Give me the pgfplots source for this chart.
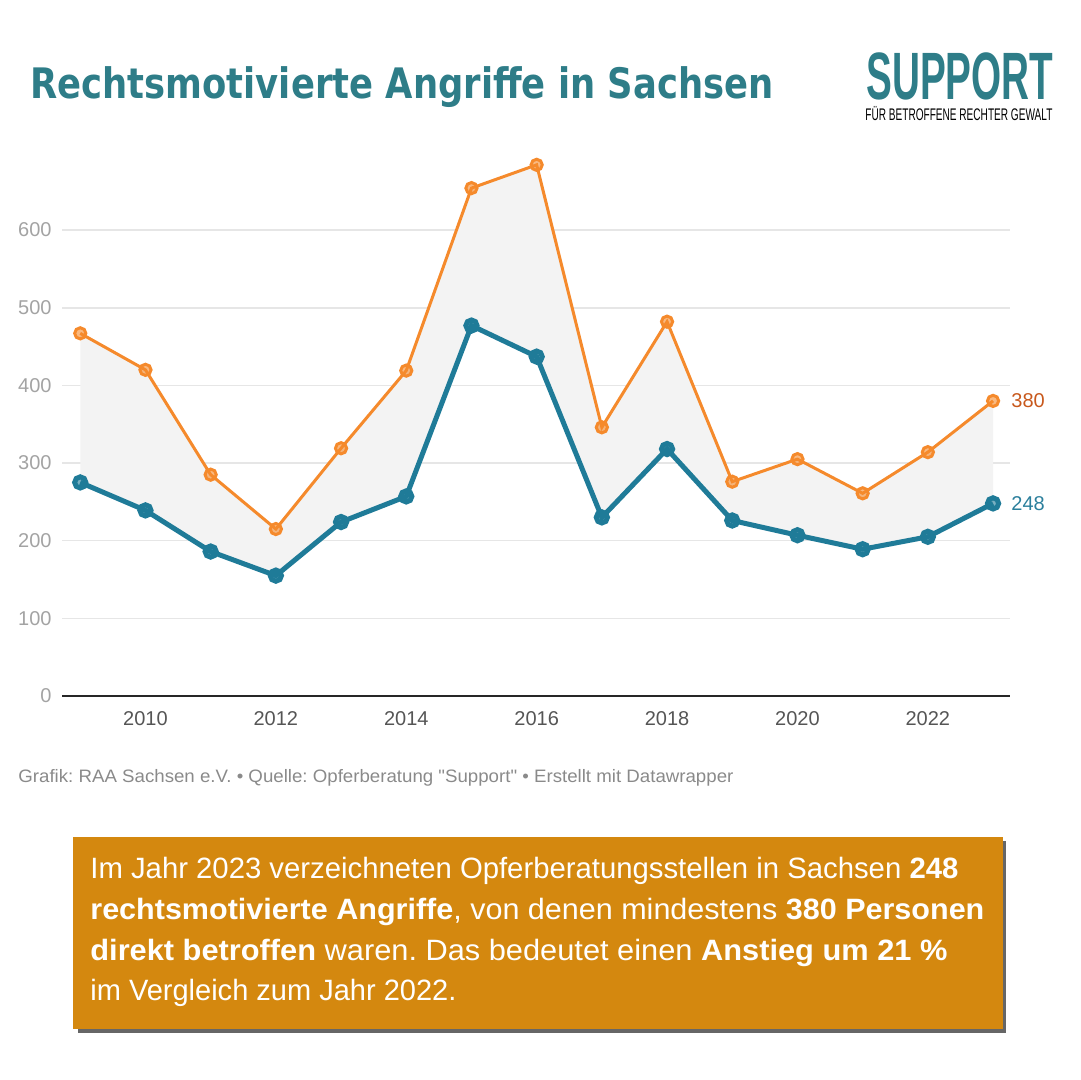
\documentclass[border=0pt]{standalone}
\usepackage{pgfplots}
\pgfplotsset{compat=1.18}
\usepackage{pgfplotstable}
\usepgfplotslibrary{fillbetween}
\usepackage{graphicx}
\usepackage{fontspec}
\setmainfont{Liberation Sans}
\newfontfamily\titlefont{DejaVu Sans}
\newfontfamily\srcfont[Ligatures=TeXOff]{Liberation Sans}
\frenchspacing

\definecolor{orangeC}{HTML}{F58A2C}
\definecolor{blueC}{HTML}{1F7B98}
\definecolor{titleC}{HTML}{2E7D88}
\definecolor{boxC}{HTML}{D4880F}
\definecolor{shadowC}{HTML}{666666}
\definecolor{srcC}{HTML}{8A8A8A}
\definecolor{ytickC}{HTML}{A3A3A3}
\definecolor{xtickC}{HTML}{555555}
\definecolor{gridC}{HTML}{E6E6E6}
\definecolor{fillC}{HTML}{F3F3F3}
\definecolor{lab380}{HTML}{C8581C}
\definecolor{lab248}{HTML}{2B7F9C}

\pgfplotstableread{
year orange blue
2009 467 275
2010 420 239
2011 285 186
2012 215 155
2013 319 224
2014 419 257
2015 654 477
2016 684 437
2017 346 230
2018 482 318
2019 276 226
2020 305 207
2021 261 189
2022 314 205
2023 380 248
}\datatable

\begin{document}
\begin{tikzpicture}
\path (0,0) rectangle (540pt,540pt);

% title
\node[anchor=base west, inner sep=0, text=titleC] at (15pt,490.5pt)
  {\resizebox{371.5pt}{\height}{\titlefont\bfseries\fontsize{21}{21}\selectfont Rechtsmotivierte Angriffe in Sachsen}};

% logo
\node[anchor=base west, inner sep=0, text=titleC] at (433pt,490pt)
  {\resizebox{93.5pt}{\height}{\fontsize{33.5}{33.5}\selectfont\bfseries SUPPORT}};
\node[anchor=base west, inner sep=0, text=black] at (432.5pt,479.5pt)
  {\resizebox{93.5pt}{\height}{\fontsize{8.4}{8.4}\selectfont FÜR BETROFFENE RECHTER GEWALT}};

% source
\node[anchor=base west, inner sep=0, text=srcC] at (9pt,148.5pt)
  {\resizebox{357.5pt}{\height}{\srcfont\fontsize{9}{9}\selectfont Grafik: RAA Sachsen e.V. • Quelle: Opferberatung "Support" • Erstellt mit Datawrapper}};

% box
\fill[shadowC] (39pt,23.5pt) rectangle (503pt,119.5pt);
\fill[boxC] (36.5pt,25.5pt) rectangle (501.5pt,121.5pt);
\begin{scope}[every node/.style={anchor=base west, inner sep=0, text=white}]
\node at (45pt,100.5pt) {\resizebox{434pt}{\height}{\fontsize{14.7}{14.7}\selectfont Im Jahr 2023 verzeichneten Opferberatungsstellen in Sachsen \textbf{248}}};
\node at (45pt,80pt) {\resizebox{447pt}{\height}{\fontsize{14.7}{14.7}\selectfont \textbf{rechtsmotivierte Angriffe}, von denen mindestens \textbf{380 Personen}}};
\node at (45pt,59.5pt) {\resizebox{428.5pt}{\height}{\fontsize{14.7}{14.7}\selectfont \textbf{direkt betroffen} waren. Das bedeutet einen \textbf{Anstieg um 21 \%}}};
\node at (45pt,39.5pt) {\resizebox{183pt}{\height}{\fontsize{14.7}{14.7}\selectfont im Vergleich zum Jahr 2022.}};
\end{scope}

\begin{axis}[
  at={(31pt,192pt)}, anchor=south west,
  scale only axis, width=474pt, height=271.8pt,
  xmin=2008.72, xmax=2023.26, ymin=0, ymax=700,
  set layers,
  axis x line*=bottom, axis y line*=left,
  y axis line style={draw=none},
  x axis line style={draw=black!85, line width=1pt},
  major tick length=0pt,
  xtick={2010,2012,...,2022},
  ytick={0,100,...,600},
  ymajorgrids, grid style={draw=gridC, line width=0.8pt},
  /pgf/number format/1000 sep={},
  /pgf/number format/assume math mode=true,
  yticklabel style={font=\fontsize{10}{10}\selectfont, text=ytickC, anchor=east, inner sep=0pt, xshift=-5pt},
  xticklabel style={font=\fontsize{10}{10}\selectfont, text=xtickC, anchor=north, inner sep=0pt, yshift=-7.5pt},
  clip=false,
]
\addplot[draw=none, name path=O, forget plot] table[x=year, y=orange] {\datatable};
\addplot[draw=none, name path=B, forget plot] table[x=year, y=blue] {\datatable};
\addplot[fillC, on layer=axis background] fill between[of=O and B];

\addplot[color=orangeC, line width=1.5pt, mark=*, mark size=2.8pt,
  mark options={draw=none, fill=orangeC, fill opacity=0.6}] table[x=year, y=orange] {\datatable};
\addplot[color=blueC, line width=2.5pt, mark=*, mark size=2.8pt,
  mark options={draw=none, fill=blueC, fill opacity=0.6}] table[x=year, y=blue] {\datatable};

\node[anchor=west, inner sep=0, text=lab380, font=\fontsize{10}{10}\selectfont, xshift=9pt] at (axis cs:2023,380) {380};
\node[anchor=west, inner sep=0, text=lab248, font=\fontsize{10}{10}\selectfont, xshift=9pt] at (axis cs:2023,248) {248};
\end{axis}
\end{tikzpicture}
\end{document}
